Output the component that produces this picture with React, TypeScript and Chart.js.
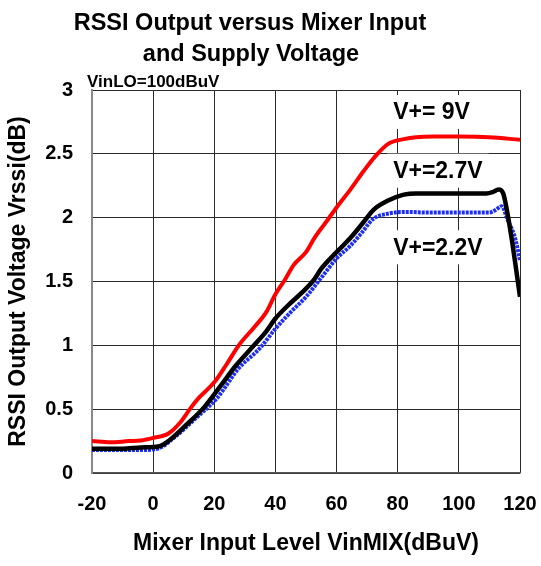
import React, { useEffect, useRef } from "react";
import { Chart, registerables } from "chart.js";

Chart.register(...registerables);

const FONT = '"Liberation Sans", Arial, Helvetica, sans-serif';

const titleLines = ["RSSI Output versus Mixer Input", "and Supply Voltage"];
const noteText = "VinLO=100dBuV";
const xAxisTitle = "Mixer Input Level VinMIX(dBuV)";
const yAxisTitle = "RSSI Output Voltage Vrssi(dB)";

const seriesNames = ["V+= 9V", "V+=2.7V", "V+=2.2V"];
const labelX = [78.5, 78.5, 78.5];
const labelY = [2.82, 2.36, 1.76];

// V+ = 9V (red)
const x9V = [-20, -14, -8, -4, 0, 5, 9, 12, 15, 20, 24, 28, 33, 37, 40, 43, 46, 50, 53, 57, 60, 64.5, 69, 73, 77, 82, 86, 92, 100, 110, 120];
const y9V = [0.25, 0.24, 0.25, 0.255, 0.275, 0.31, 0.4, 0.5, 0.59, 0.71, 0.85, 1.0, 1.14, 1.26, 1.4, 1.51, 1.63, 1.73, 1.85, 1.98, 2.08, 2.22, 2.37, 2.49, 2.58, 2.615, 2.63, 2.635, 2.635, 2.63, 2.61];

// V+ = 2.7V (black)
const x27V = [-20, -10, -4, 2, 5.5, 11, 16.5, 22, 27, 33, 37, 40, 44, 49, 52.5, 55, 60, 64.5, 69, 72, 76.5, 82, 86, 95, 109, 111, 113, 114.5, 116, 117.5, 119, 120];
const y27V = [0.19, 0.19, 0.2, 0.21, 0.26, 0.38, 0.51, 0.68, 0.84, 1.0, 1.11, 1.21, 1.31, 1.42, 1.51, 1.6, 1.73, 1.84, 1.97, 2.06, 2.13, 2.18, 2.19, 2.19, 2.19, 2.2, 2.22, 2.19, 2.02, 1.8, 1.55, 1.38];

// V+ = 2.2V (blue)
const x22V = [-20, -10, -4, 2, 6.5, 14, 21, 28, 35, 40, 45, 50, 55, 60, 64.5, 68, 72, 76.5, 83, 90, 100, 110, 112, 114, 116, 118, 119, 120];
const y22V = [0.18, 0.18, 0.18, 0.195, 0.27, 0.43, 0.59, 0.82, 0.98, 1.13, 1.26, 1.38, 1.53, 1.68, 1.78, 1.875, 1.99, 2.03, 2.045, 2.04, 2.04, 2.04, 2.06, 2.09, 1.98, 1.87, 1.78, 1.66];

const toPoints = (xs: number[], ys: number[]) => xs.map((x, i) => ({ x, y: ys[i] }));

const LABEL_FONT = `bold 23px ${FONT}`;

const labelPlugin = {
  id: "labelPlugin",
  beforeDatasetsDraw(chart: any) {
    const ctx = chart.ctx;
    const xs = chart.scales.x;
    const ys = chart.scales.y;
    ctx.save();
    ctx.font = LABEL_FONT;
    ctx.fillStyle = "#ffffff";
    seriesNames.forEach((n, i) => {
      const px = xs.getPixelForValue(labelX[i]);
      const py = ys.getPixelForValue(labelY[i]);
      const w = ctx.measureText(n).width;
      ctx.fillRect(px - 6, py - 18, w + 12, 34);
    });
    ctx.restore();
  },
  afterDraw(chart: any) {
    const ctx = chart.ctx;
    const xs = chart.scales.x;
    const ys = chart.scales.y;
    ctx.save();
    ctx.fillStyle = "#000000";
    ctx.textAlign = "center";
    ctx.textBaseline = "alphabetic";
    ctx.font = `bold 23.5px ${FONT}`;
    ctx.fillText(titleLines[0], 250, 30);
    ctx.fillText(titleLines[1], 251, 61);
    ctx.font = `bold 17px ${FONT}`;
    ctx.textAlign = "left";
    ctx.fillText(noteText, 87, 87);
    ctx.font = LABEL_FONT;
    ctx.textBaseline = "middle";
    seriesNames.forEach((n, i) => {
      ctx.fillText(n, xs.getPixelForValue(labelX[i]), ys.getPixelForValue(labelY[i]));
    });
    ctx.restore();
  },
};

export default function App() {
  const ref = useRef<HTMLCanvasElement | null>(null);

  useEffect(() => {
    if (!ref.current) return;
    const chart = new Chart(ref.current, {
      type: "line",
      data: {
        datasets: [
          {
            label: seriesNames[0],
            data: toPoints(x9V, y9V),
            borderColor: "#ff0000",
            borderWidth: 4,
            pointRadius: 0,
            cubicInterpolationMode: "monotone",
            order: 1,
          },
          {
            label: seriesNames[1],
            data: toPoints(x27V, y27V),
            borderColor: "#000000",
            borderWidth: 4.5,
            pointRadius: 0,
            cubicInterpolationMode: "monotone",
            order: 2,
          },
          {
            label: seriesNames[2],
            data: toPoints(x22V, y22V),
            borderColor: "#1f2ff0",
            borderWidth: 4,
            borderDash: [3, 1],
            pointRadius: 0,
            cubicInterpolationMode: "monotone",
            order: 3,
          },
        ],
      },
      options: {
        responsive: false,
        animation: false,
        devicePixelRatio: 1,
        layout: { padding: { top: 90, right: 21, left: 0, bottom: 0 } },
        plugins: {
          legend: { display: false },
          title: { display: false },
          tooltip: { enabled: false },
        },
        scales: {
          x: {
            type: "linear",
            min: -20,
            max: 120,
            afterFit: (s: any) => {
              s.height = 93;
              s.paddingLeft = 0;
              s.paddingRight = 0;
            },
            ticks: {
              stepSize: 20,
              padding: 19,
              color: "#000",
              font: { family: FONT, size: 20, weight: "bold" },
            },
            grid: { color: "#2a2a2a", lineWidth: 1, drawTicks: false },
            border: { color: "#555555", width: 1.5 },
            title: {
              display: true,
              text: xAxisTitle,
              color: "#000",
              font: { family: FONT, size: 23, weight: "bold" },
              padding: { top: 0, bottom: 9 },
            },
          },
          y: {
            type: "linear",
            min: 0,
            max: 3,
            afterFit: (s: any) => {
              s.width = 92;
              s.paddingTop = 0;
              s.paddingBottom = 0;
            },
            ticks: {
              stepSize: 0.5,
              padding: 19,
              color: "#000",
              font: { family: FONT, size: 20, weight: "bold" },
              callback: (v: any) => `${v}`,
            },
            grid: { color: "#2a2a2a", lineWidth: 1, drawTicks: false },
            border: { color: "#888888", width: 2 },
            title: {
              display: true,
              text: yAxisTitle,
              color: "#000",
              font: { family: FONT, size: 23, weight: "bold" },
              padding: { top: 5, bottom: 0 },
            },
          },
        },
      },
      plugins: [labelPlugin],
    });
    return () => chart.destroy();
  }, []);

  return (
    <div style={{ position: "absolute", left: 0, top: 0, width: 541, height: 566, background: "#fff" }}>
      <canvas ref={ref} width={541} height={566} style={{ display: "block", width: 541, height: 566 }} />
    </div>
  );
}
